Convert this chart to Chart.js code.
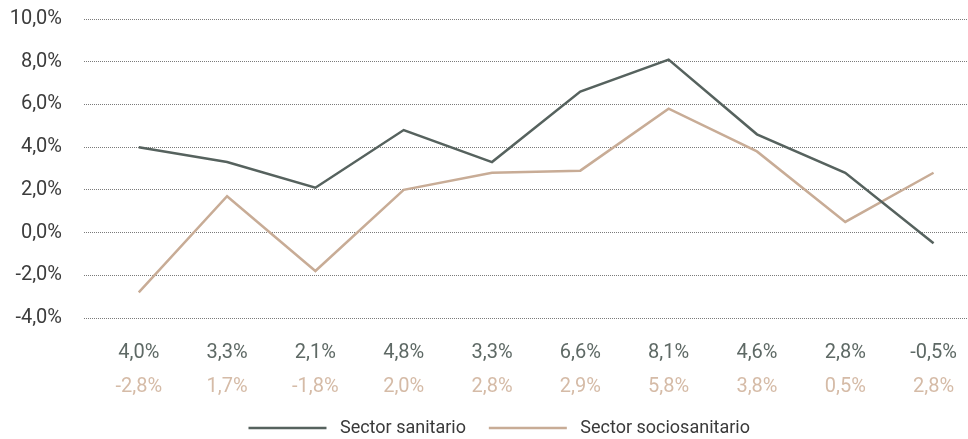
<!DOCTYPE html>
<html lang="es">
<head>
    <meta charset="UTF-8">
    <title>Sector sanitario vs sociosanitario</title>
    <script src="https://cdn.jsdelivr.net/npm/chart.js"></script>
    <style>
        html, body { margin: 0; padding: 0; background: #fff; }
        #wrap { width: 968px; height: 439px; }
    </style>
</head>
<body>
    <div id="wrap"><canvas id="chart"></canvas></div>

    <script>
        // Datos
        const periods = ['1', '2', '3', '4', '5', '6', '7', '8', '9', '10'];
        const sanitario = [4.0, 3.3, 2.1, 4.8, 3.3, 6.6, 8.1, 4.6, 2.8, -0.5];
        const sociosanitario = [-2.8, 1.7, -1.8, 2.0, 2.8, 2.9, 5.8, 3.8, 0.5, 2.8];
        const yTicks = [-4, -2, 0, 2, 4, 6, 8, 10];

        const fmt = v => v.toFixed(1).replace('.', ',') + '%';
        const toPoints = arr => arr.map((v, i) => ({ x: i, y: v }));

        const darkColor = '#56625e';
        const tanColor = '#c8ac96';

        // dos filas de etiquetas bajo el grafico, una por serie
        function rowAxis(values, color, pad, boxHeight) {
            return {
                type: 'linear',
                position: 'bottom',
                min: -0.62,
                max: periods.length - 0.61,
                afterFit: scale => {
                    scale.paddingLeft = 0;
                    scale.paddingRight = 0;
                    scale.height = boxHeight;
                },
                grid: { display: false, drawTicks: false },
                border: { display: false },
                ticks: {
                    stepSize: 1,
                    includeBounds: false,
                    maxRotation: 0,
                    autoSkip: false,
                    padding: pad,
                    color: color,
                    font: { family: 'Roboto', size: 20 },
                    callback: v => Number.isInteger(v) && values[v] !== undefined ? fmt(values[v]) : ''
                }
            };
        }

        new Chart(document.getElementById('chart'), {
            type: 'line',
            data: {
                datasets: [
                    {
                        label: 'Sector sanitario',
                        data: toPoints(sanitario),
                        borderColor: darkColor,
                        backgroundColor: darkColor,
                        borderWidth: 2.5,
                        pointRadius: 0,
                        tension: 0
                    },
                    {
                        label: 'Sector sociosanitario',
                        data: toPoints(sociosanitario),
                        borderColor: tanColor,
                        backgroundColor: tanColor,
                        borderWidth: 2.5,
                        pointRadius: 0,
                        tension: 0
                    }
                ]
            },
            options: {
                responsive: true,
                maintainAspectRatio: false,
                animation: false,
                layout: { padding: { top: 19, right: 0, left: 0, bottom: -8 } },
                scales: {
                    x: rowAxis(sanitario, '#5e6965', 23, 47),
                    x2: rowAxis(sociosanitario, '#d5bba7', 10, 49),
                    y: {
                        min: yTicks[0],
                        max: yTicks[yTicks.length - 1],
                        afterFit: scale => {
                            scale.width = 84;
                            scale.paddingTop = 0;
                            scale.paddingBottom = 0;
                        },
                        afterBuildTicks: scale => { scale.ticks = yTicks.map(v => ({ value: v })); },
                        grid: {
                            color: '#7a7a7a',
                            lineWidth: 1,
                            drawTicks: false
                        },
                        border: { display: false, dash: [1, 1] },
                        ticks: {
                            padding: 22,
                            color: '#3c3c3c',
                            font: { family: 'Roboto', size: 20 },
                            callback: v => fmt(v)
                        }
                    }
                },
                plugins: {
                    legend: {
                        position: 'bottom',
                        fullSize: false,
                        labels: {
                            usePointStyle: true,
                            pointStyle: 'line',
                            pointStyleWidth: 78,
                            boxHeight: 18,
                            padding: 5,
                            color: '#3a3a3a',
                            font: { family: 'Roboto', size: 18 },
                            // espacios para separar y centrar la leyenda como en el original
                            generateLabels: chart => {
                                const items = Chart.defaults.plugins.legend.labels.generateLabels(chart);
                                items[0].text = ' ' + items[0].text + '    ';
                                items[1].text = ' ' + items[1].text + '            ';
                                return items;
                            }
                        }
                    },
                    tooltip: { enabled: false }
                }
            }
        });
    </script>
</body>
</html>
